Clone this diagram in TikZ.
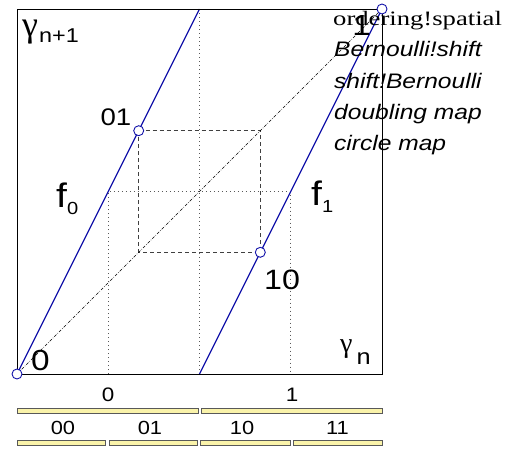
\documentclass[tikz,border=0pt]{standalone}
\usepackage{fontspec}
\setmainfont{Liberation Sans}[FakeStretch=1.15]
\newfontfamily\listfont{Liberation Sans}[FakeStretch=1.17]
\newfontfamily\serifw{Liberation Serif}[FakeStretch=1.3]
\newfontfamily\gfont{Liberation Serif}
\definecolor{lineblue}{RGB}{20,20,170}
\definecolor{baryellow}{RGB}{250,243,170}
\tikzset{
  frame/.style={line width=0.9pt, black},
  mapline/.style={line width=1.3pt, lineblue},
  fixpt/.style={circle, draw=lineblue, fill=white, line width=0.9pt, minimum size=10pt, inner sep=0pt},
  diag/.style={dash pattern=on 3pt off 1.5pt on 0.6pt off 1.5pt, line width=0.6pt, black},
  orbit/.style={dash pattern=on 4pt off 3pt, line width=0.8pt, black!75},
  gridl/.style={dash pattern=on 0.8pt off 3.2pt, line width=0.8pt, black!65},
  bar/.style={draw=black!65, fill=baryellow, line width=0.8pt},
  lbl/.style={inner sep=0pt, anchor=base},
  lblw/.style={inner sep=0pt, anchor=base west},
}
\begin{document}
\begin{tikzpicture}[x=1pt,y=-1pt]
\useasboundingbox (0,0) rectangle (505,448);
% coordinates
\coordinate (BL) at (17,374);
\coordinate (TR) at (382,9);
\coordinate (TL) at (17,9);
\coordinate (BR) at (382,374);
\coordinate (MT) at (199.5,9);
\coordinate (MB) at (199.5,374);
\coordinate (Q1M) at (108.25,191.5);
\coordinate (Q1B) at (108.25,374);
\coordinate (Q3M) at (290.75,191.5);
\coordinate (Q3B) at (290.75,374);
\coordinate (P01) at (138.7,130.7);
\coordinate (P10) at (260.3,252.3);
\coordinate (Ra) at (260.3,130.7);
\coordinate (Rb) at (138.7,252.3);
% dotted grid
\draw[gridl] (MT) -- (MB);
\draw[gridl] (Q1B) -- (Q1M) -- (Q3M) -- (Q3B);
% dashed orbit
\draw[orbit] (P01) -- (Ra) -- (P10) -- (Rb) -- cycle;
% diagonal
\draw[diag] (BL) -- (TR);
% map branches
\draw[mapline] (BL) -- (MT);
\draw[mapline] (MB) -- (TR);
% frame
\draw[frame] (TL) rectangle (BR);
% fixed points and orbit points
\node[fixpt] (c0) at (BL) {};
\node[fixpt] (c1) at (TR) {};
\node[fixpt] (c01) at (P01) {};
\node[fixpt] (c10) at (P10) {};
% labels
\node[lblw] (gnp) at (22,36) {\gfont\fontsize{36}{36}\selectfont γ\listfont\fontsize{20}{20}\selectfont\kern1pt\raisebox{-6pt}{n+1}};
\node[lblw] (gn) at (340,352) {\gfont\fontsize{28}{28}\selectfont γ\normalfont\kern4pt\fontsize{22}{22}\selectfont\raisebox{-12pt}{n}};
\node[lblw] (f0) at (56,207) {\fontsize{34}{34}\selectfont f\fontsize{17.5}{17.5}\selectfont\raisebox{-7pt}{0}};
\node[lblw] (f1) at (311,205) {\fontsize{34}{34}\selectfont f\fontsize{17.5}{17.5}\selectfont\raisebox{-7pt}{1}};
\node[lbl, font=\fontsize{24}{24}\selectfont] (l01) at (116,125) {01};
\node[lbl, font=\fontsize{28}{28}\selectfont] (l10) at (282,289) {10};
\node[lbl, font=\fontsize{29}{29}\selectfont] (l0) at (40.5,370) {0};
\node[lbl, font=\fontsize{29}{29}\selectfont] (l1) at (361.6,35) {1};
% axis partition labels
\node[lbl, font=\fontsize{19.5}{20}\selectfont] (a0) at (108,401) {0};
\node[lbl, font=\fontsize{19.5}{20}\selectfont] (a1) at (292,401) {1};
\draw[bar] (17,408) rectangle (198,413);
\draw[bar] (201,408) rectangle (382,413);
\node[lbl, font=\fontsize{19}{19}\selectfont] (b00) at (63,434) {00};
\node[lbl, font=\fontsize{19}{19}\selectfont] (b01) at (150,434) {01};
\node[lbl, font=\fontsize{19}{19}\selectfont] (b10) at (242,434) {10};
\node[lbl, font=\fontsize{19}{19}\selectfont] (b11) at (337.5,434) {11};
\draw[bar] (17,440) rectangle (105,445);
\draw[bar] (109,440) rectangle (197,445);
\draw[bar] (200.5,440) rectangle (290,445);
\draw[bar] (293,440) rectangle (382,445);
% index entries
\node[lblw, font=\serifw\fontsize{20.5}{21}\selectfont] (ix1) at (333,25) {ordering!spatial};
\node[lblw, font=\listfont\itshape\fontsize{21}{21}\selectfont] (ix2) at (334,56) {Bernoulli!shift};
\node[lblw, font=\listfont\itshape\fontsize{21}{21}\selectfont] (ix3) at (334,88) {shift!Bernoulli};
\node[lblw, font=\listfont\itshape\fontsize{21}{21}\selectfont] (ix4) at (334,119) {doubling map};
\node[lblw, font=\listfont\itshape\fontsize{21}{21}\selectfont] (ix5) at (334,150) {circle map};
\end{tikzpicture}
\end{document}
